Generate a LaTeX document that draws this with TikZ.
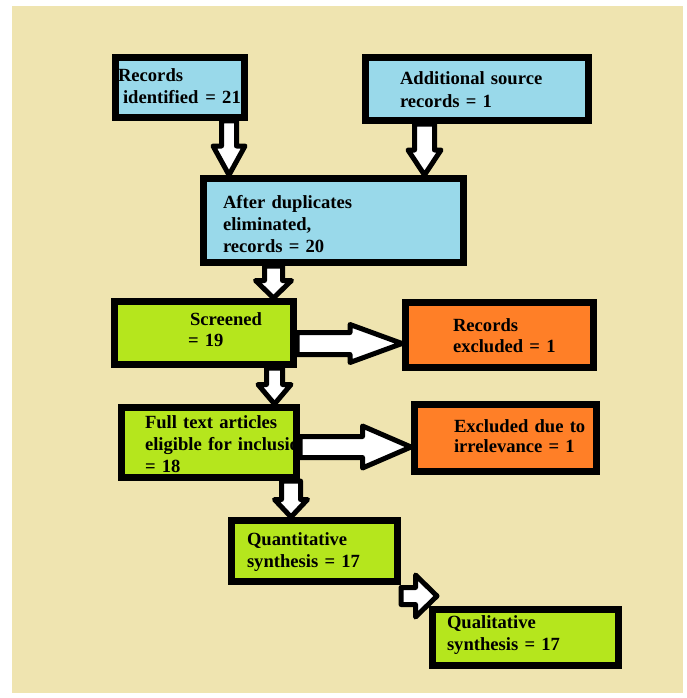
\documentclass[tikz,border=0pt]{standalone}
\usepackage{fontspec}
\setmainfont{Liberation Serif}
\usetikzlibrary{calc}
\definecolor{bgbeige}{HTML}{EFE4B0}
\definecolor{skyblue}{HTML}{99D9EA}
\definecolor{limegreen}{HTML}{B5E61D}
\definecolor{orangebox}{HTML}{FF7F27}
\newcommand\firstln[2]{\mbox{\rule{0pt}{#1pt}#2}}
\newcommand\lastln[2]{\mbox{\rule[-#1pt]{0pt}{#1pt}#2}}
\begin{document}
\begin{tikzpicture}[x=1pt,y=-1pt,
  box/.style={draw=black, line width=7pt, inner sep=0pt, align=left, text=black,
    font=\fontsize{18.6pt}{21.5pt}\selectfont\bfseries},
  lsp/.style={font=\fontsize{18.6pt}{#1}\selectfont\bfseries},
  bluebox/.style={box, fill=skyblue},
  greenbox/.style={box, fill=limegreen},
  orangebx/.style={box, fill=orangebox},
  blockarrow/.style n args={3}{draw=black, line width=5pt, fill=white, line join=round,
    to path={
      ($(\tikztostart)!#1!90:(\tikztotarget)$)
      -- ($(\tikztotarget)!#3!(\tikztostart)!#1!90:(\tikztotarget)$)
      -- ($(\tikztotarget)!#3!(\tikztostart)!#2!90:(\tikztotarget)$)
      -- (\tikztotarget)
      -- ($(\tikztotarget)!#3!(\tikztostart)!#2!-90:(\tikztotarget)$)
      -- ($(\tikztotarget)!#3!(\tikztostart)!#1!-90:(\tikztotarget)$)
      -- ($(\tikztostart)!#1!-90:(\tikztotarget)$) -- cycle}}
]
\useasboundingbox (0,0) rectangle (687,698);
\fill[white] (0,0) rectangle (687,698);
\fill[bgbeige] (12,6) rectangle (683,693);

\node[bluebox, lsp=21pt, minimum width=129pt, minimum height=60pt, text width=124pt] (A) at (180,87.5)
  {\firstln{15}{Records}\\\lastln{5}{\hspace*{5pt}identified\hspace*{7pt}= 21}};
\node[bluebox, lsp=23pt, minimum width=223pt, minimum height=63pt, text width=154pt] (B) at (477,89)
  {\firstln{20}{Additional source}\\\lastln{5}{records = 1}};
\node[bluebox, lsp=22pt, minimum width=260pt, minimum height=84pt, text width=221pt] (C) at (333.5,220.5)
  {\firstln{24}{After duplicates}\\\mbox{eliminated,}\\\lastln{5}{records = 20}};
\node[greenbox, lsp=21pt, minimum width=179pt, minimum height=63pt, text width=28pt] (D) at (204,333)
  {\firstln{14}{Screened}\\\lastln{9}{\hspace*{-2pt}= 19}};
\node[orangebx, lsp=21pt, minimum width=188pt, minimum height=65pt, text width=93pt] (E) at (499.5,335)
  {\firstln{18}{Records}\\\lastln{5}{excluded = 1}};
\node[greenbox, lsp=22pt, minimum width=175pt, minimum height=70pt, text width=128pt] (F) at (209,442.5)
  {\firstln{20}{Full text articles}\\\mbox{eligible for inclusion}\\\lastln{5}{= 18}};
\node[orangebx, lsp=20pt, minimum width=182pt, minimum height=67pt, text width=103pt] (G) at (505.5,438)
  {\firstln{14}{Excluded due to}\\\lastln{6}{irrelevance = 1}};
\node[greenbox, lsp=22pt, minimum width=166pt, minimum height=61pt, text width=135pt] (H) at (314.5,551)
  {\firstln{15}{Quantitative}\\\lastln{5}{synthesis = 17}};
\node[greenbox, lsp=22pt, minimum width=186pt, minimum height=56pt, text width=157pt] (I) at (525.5,637.5)
  {\firstln{14}{Qualitative}\\\lastln{11}{synthesis = 17}};

\draw[blockarrow={7.5pt}{16pt}{29pt}] ([xshift=49pt]A.south) to ([xshift=-104.5pt]C.north);
\draw[blockarrow={10pt}{16.5pt}{25pt}] ([xshift=-52.5pt]B.south) to ([xshift=91pt]C.north);
\draw[blockarrow={9pt}{18pt}{17.5pt}] ([xshift=-60pt]C.south) to ([xshift=69.5pt]D.north);
\draw[blockarrow={11pt}{19pt}{52pt}] ([yshift=-10.5pt]D.east) to ([yshift=-8.5pt]E.west);
\draw[blockarrow={8pt}{16.5pt}{19.5pt}] ([xshift=70.5pt]D.south) to ([xshift=65.5pt]F.north);
\draw[blockarrow={10.5pt}{21pt}{48.5pt}] ([yshift=-4.5pt]F.east) to ([yshift=-9pt]G.west);
\draw[blockarrow={9.5pt}{16.5pt}{17.5pt}] ([xshift=82pt]F.south) to ([xshift=-23.5pt]H.north);
\draw[blockarrow={8.5pt}{21pt}{21.5pt}] ([yshift=-11pt]H.south east) to ([xshift=8pt,yshift=10pt]I.north west);
\end{tikzpicture}
\end{document}
